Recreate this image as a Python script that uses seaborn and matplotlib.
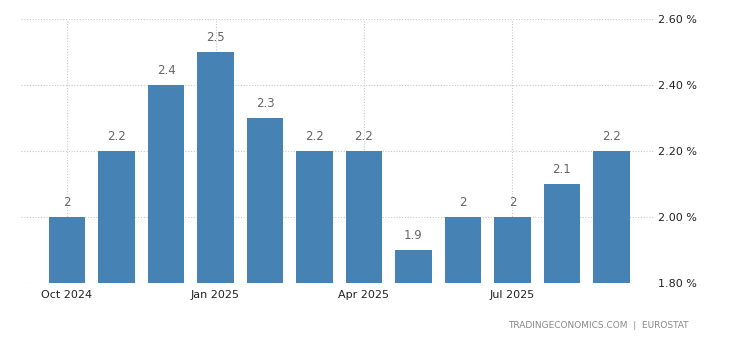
import matplotlib
matplotlib.use("Agg")
import matplotlib.pyplot as plt
import seaborn as sns
import pandas as pd

months = ["Oct 2024", "Nov 2024", "Dec 2024", "Jan 2025", "Feb 2025", "Mar 2025",
          "Apr 2025", "May 2025", "Jun 2025", "Jul 2025", "Aug 2025", "Sep 2025"]
values = [2.0, 2.2, 2.4, 2.5, 2.3, 2.2, 2.2, 1.9, 2.0, 2.0, 2.1, 2.2]
tick_labels = ["Oct 2024", "Jan 2025", "Apr 2025", "Jul 2025"]
y_ticks = [1.8, 2.0, 2.2, 2.4, 2.6]

sns.set_theme(style="white")
plt.rcParams["font.family"] = ["DejaVu Sans"]

df = pd.DataFrame({"month": months, "value": values})

fig = plt.figure(figsize=(7.3, 3.4), dpi=100)
ax = fig.add_axes([21/730, 1-283/340, (655-21)/730, (283-19)/340])

sns.barplot(data=df, x="month", y="value", order=months, color="#4682B4",
            saturation=1, width=0.73, linewidth=0, edgecolor="none", ax=ax, zorder=2)

for i, v in enumerate(values):
    ax.annotate(f"{v:g}", (i, v), xytext=(0, 5.5), textcoords="offset points",
                ha="center", va="bottom", fontsize=8.5, color="#666666")

ax.set_xlim(-0.93, 11.88)
ax.set_ylim(1.8, 2.6)
ax.set_yticks(y_ticks)
ax.set_yticklabels([f"{t:.2f} %" for t in y_ticks])
ax.yaxis.tick_right()
tick_pos = [months.index(t) for t in tick_labels]
ax.set_xticks(tick_pos)
ax.set_xticklabels(tick_labels)
ax.tick_params(axis="y", length=0, pad=2, labelsize=8, labelcolor="#222222")
ax.tick_params(axis="x", length=0, pad=5, labelsize=8, labelcolor="#222222")
ax.set_xlabel("")
ax.set_ylabel("")
for s in ax.spines.values():
    s.set_visible(False)
ax.grid(True, axis="both", linestyle=(0, (1, 1.5)), color="#c8c8c8", linewidth=0.8, zorder=0)
ax.set_axisbelow(True)

fig.text(689/730, 1-325/340, "TRADINGECONOMICS.COM  |  EUROSTAT", ha="right", va="center",
         fontsize=6.5, color="#888888")

fig.savefig("out.png", dpi=100)
